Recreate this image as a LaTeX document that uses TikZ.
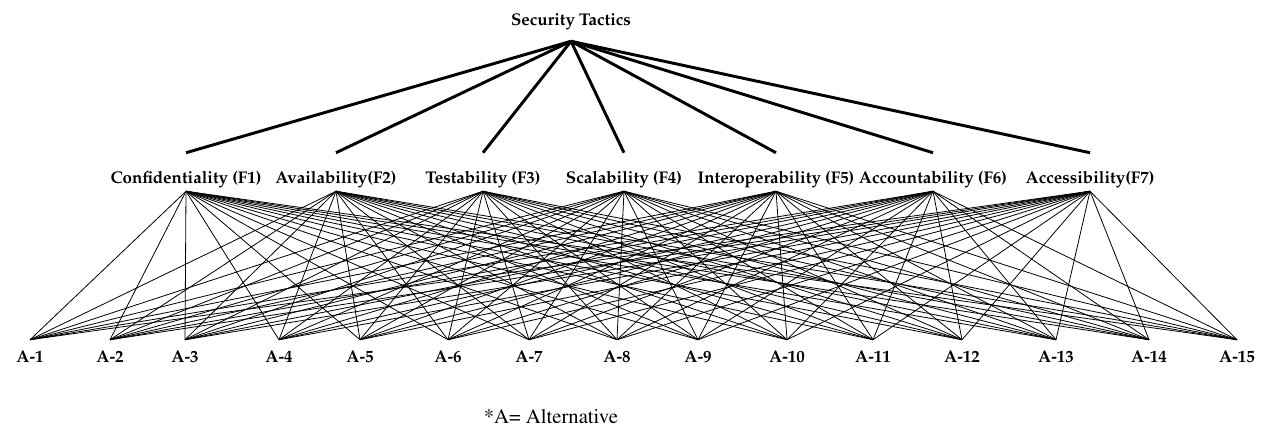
\documentclass[tikz,border=0pt]{standalone}
\usepackage[T1]{fontenc}
\usepackage{tikz}

\begin{document}
\begin{tikzpicture}[x=0.75pt,y=-0.75pt,
    every node/.style={font=\fontfamily{ppl}\fontsize{12.7}{15}\bfseries\selectfont,
                       inner sep=0pt,anchor=base},
    crit/.style={text height=23.25pt,text depth=5.25pt},
    alt/.style={text height=16.5pt,text depth=0pt}]
  \useasboundingbox (0,0) rectangle (1265,428);
  \node[text depth=11.25pt] (st) at (571,26) {Security Tactics};
  \foreach \x/\lab [count=\i] in {186/Confidentiality (F1),336/Availability(F2),
      483/Testability (F3),624/Scalability (F4),776/Interoperability (F5),
      933/Accountability (F6),1090/Accessibility(F7)}
    \node[crit] (f\i) at (\x,184) {\lab};
  \foreach \x [count=\j] in {30,110,185,279,360,448,529,617,698,787,873,962,1056,1149,1237}
    \node[alt] (a\j) at (\x,362) {A-\j};
  \foreach \i in {1,...,7}
    \draw[line width=2.2pt] (st.south) -- (f\i.north);
  % every factor to every alternative
  \foreach \i in {1,...,7}
    \foreach \j in {1,...,15}
      \draw[line width=0.6pt] (f\i.south) -- (a\j.north);
  \node[font=\fontfamily{ptm}\fontsize{15.5}{18}\selectfont] (note) at (551,423)
    {*A= Alternative};
\end{tikzpicture}
\end{document}
